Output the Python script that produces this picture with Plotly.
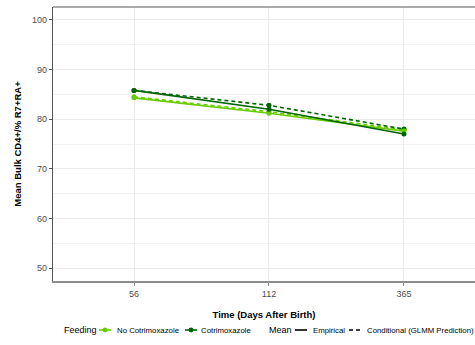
import plotly.graph_objects as go

days = ["56", "112", "365"]
no_cotrim_emp = [84.3, 81.2, 77.6]
no_cotrim_cond = [84.5, 81.5, 77.9]
cotrim_emp = [85.8, 82.0, 77.0]
cotrim_cond = [85.8, 82.8, 78.0]

feeding_labels = ["No Cotrimoxazole", "Cotrimoxazole"]
mean_labels = ["Empirical", "Conditional (GLMM Prediction)"]

light = "#66CD00"
dark = "#006400"
FONT = "Liberation Sans, Arial, sans-serif"
DASH = "4px,3px"

fig = go.Figure()

def add(y, color, dash, name):
    fig.add_trace(go.Scatter(
        x=days, y=y, mode="lines+markers",
        line=dict(color=color, width=1.6, dash=dash),
        marker=dict(color=color, size=5),
        name=name, showlegend=False))

add(no_cotrim_cond, light, DASH, feeding_labels[0])
add(cotrim_cond, dark, DASH, feeding_labels[1])
add(no_cotrim_emp, light, "solid", feeding_labels[0])
add(cotrim_emp, dark, "solid", feeding_labels[1])

# ---- manual legend (pixel layout converted to paper coords) ----
L, R, T, B = 53, 475, 7, 281
def px(x):
    return (x - L) / (R - L)
def py(y):
    return (B - y) / (B - T)

LY = 330
shapes = [dict(type="line", xref="paper", yref="paper", x0=0, x1=1, y0=1, y1=1,
               line=dict(color="#555555", width=1.2))]
annotations = []

def text(x, s, size=7.8, color="black"):
    annotations.append(dict(xref="paper", yref="paper", x=px(x), y=py(LY), text=s,
                            showarrow=False, xanchor="left", yanchor="middle",
                            font=dict(size=size, color=color, family=FONT)))

def key(x0, x1, color, dash="solid", dot=False):
    shapes.append(dict(type="line", xref="paper", yref="paper", x0=px(x0), x1=px(x1),
                       y0=py(LY), y1=py(LY), line=dict(color=color, width=1.6, dash=dash)))
    if dot:
        c = (x0 + x1) / 2
        shapes.append(dict(type="circle", xref="paper", yref="paper",
                           x0=px(c - 2.4), x1=px(c + 2.4), y0=py(LY + 2.4), y1=py(LY - 2.4),
                           fillcolor=color, line=dict(width=0)))

text(62, "Feeding", size=9)
key(99, 111, light, dot=True)
text(115, feeding_labels[0])
key(185, 197, dark, dot=True)
text(199, feeding_labels[1])
text(267, "Mean", size=9)
key(295, 307, "black")
text(311, mean_labels[0])
key(349, 361, "black", dash=DASH)
text(365, mean_labels[1])

fig.update_layout(
    width=475, height=345,
    margin=dict(l=53, r=0, t=7, b=64),
    plot_bgcolor="white", paper_bgcolor="white",
    font=dict(family=FONT, size=9, color="black"),
    showlegend=False,
    xaxis=dict(
        type="category", categoryorder="array", categoryarray=days,
        range=[-0.6, 2.526],
        showgrid=True, gridcolor="#EBEBEB", gridwidth=1,
        showline=True, linecolor="#8C8C8C", linewidth=2,
        ticks="outside", ticklen=3, tickcolor="#8C8C8C",
        tickfont=dict(size=9, color="#4D4D4D"),
        title=dict(text="<b>Time (Days After Birth)</b>", font=dict(size=9.5), standoff=14),
        zeroline=False,
    ),
    yaxis=dict(
        range=[47.4, 102.6],
        tickvals=[50, 60, 70, 80, 90, 100],
        showgrid=True, gridcolor="#EBEBEB", gridwidth=1,
        minor=dict(tickvals=[55, 65, 75, 85, 95], showgrid=True, gridcolor="#F2F2F2", gridwidth=1),
        showline=True, linecolor="#555555", linewidth=1.2,
        ticks="outside", ticklen=3, tickcolor="#555555",
        tickfont=dict(size=9, color="#4D4D4D"),
        title=dict(text="<b>Mean Bulk CD4+/% R7+RA+</b>", font=dict(size=9.5), standoff=8),
        zeroline=False,
    ),
    shapes=shapes,
    annotations=annotations,
)

fig.write_html("out.html")
